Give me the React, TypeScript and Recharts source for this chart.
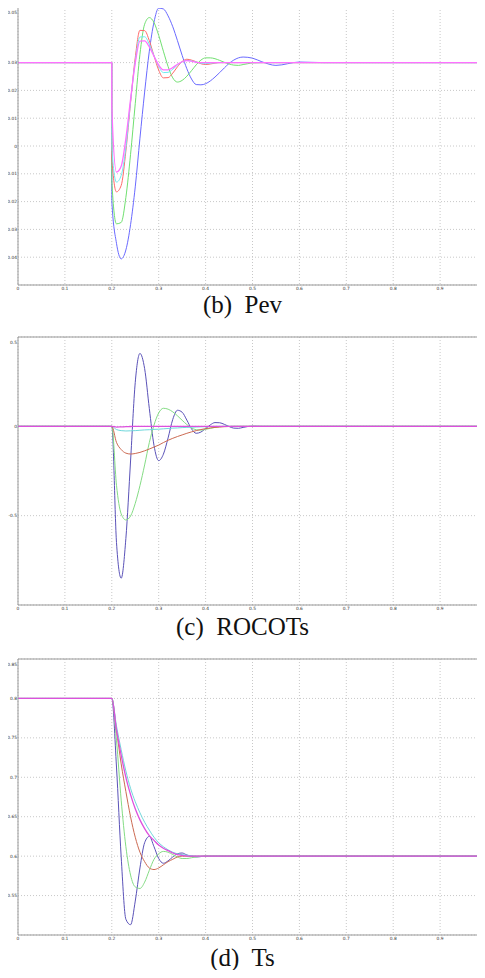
import { CartesianGrid, Line, LineChart, ReferenceLine, XAxis, YAxis } from "recharts";

// time base (s), shared by all three panels
const T = [
  0, 0.1999, 0.2, 0.21, 0.22, 0.23, 0.24, 0.25, 0.26, 0.27, 0.28, 0.29, 0.3, 0.31, 0.32, 0.33, 0.34, 0.35,
  0.36, 0.37, 0.38, 0.39, 0.4, 0.41, 0.42, 0.43, 0.44, 0.45, 0.46, 0.47, 0.48, 0.49, 0.5, 0.52, 0.55, 0.6,
  0.65, 0.7, 1.0,
];
const X_TICKS = [0, 0.1, 0.2, 0.3, 0.4, 0.5, 0.6, 0.7, 0.8, 0.9];

// (b) Pev
const PEV_TICKS = [-0.05, -0.04, -0.03, -0.02, -0.01, 0, 0.01, 0.02, 0.03, 0.04, 0.05];
const pevBlue = [
  0.03, 0.03, -0.0196, -0.035, -0.0406, -0.0374, -0.0283, -0.0147, 0.0028, 0.0194, 0.0341, 0.0446, 0.0496,
  0.0493, 0.0468, 0.0429, 0.0379, 0.0326, 0.0278, 0.0241, 0.0221, 0.022, 0.0224, 0.0234, 0.0248, 0.0264,
  0.0281, 0.0297, 0.0309, 0.0317, 0.032, 0.0319, 0.0316, 0.0303, 0.029, 0.0302, 0.03, 0.03, 0.03,
];
const pevGreen = [
  0.03, 0.03, -0.0124, -0.028, -0.0275, -0.0185, -0.003, 0.0152, 0.033, 0.0438, 0.0462, 0.0444, 0.0398,
  0.0341, 0.0286, 0.0245, 0.023, 0.0236, 0.0251, 0.0271, 0.0292, 0.0309, 0.0317, 0.0317, 0.0314, 0.0308,
  0.0301, 0.0295, 0.0291, 0.029, 0.0293, 0.0296, 0.0299, 0.03, 0.03, 0.03, 0.03, 0.03, 0.03,
];
const pevRed = [
  0.03, 0.03, -0.004, -0.0165, -0.0142, -0.0018, 0.0156, 0.0318, 0.0416, 0.0415, 0.0379, 0.0324, 0.0273,
  0.0245, 0.0246, 0.0262, 0.0285, 0.0304, 0.0312, 0.0309, 0.0303, 0.0296, 0.0293, 0.0295, 0.0298, 0.03,
  0.03, 0.03, 0.03, 0.03, 0.03, 0.03, 0.03, 0.03, 0.03, 0.03, 0.03, 0.03, 0.03,
];
const pevCyan = [
  0.03, 0.03, -0.0004, -0.013, -0.0106, -0.0005, 0.016, 0.0305, 0.0392, 0.0393, 0.0366, 0.0325, 0.0286,
  0.0264, 0.0265, 0.0276, 0.0291, 0.0303, 0.0308, 0.0306, 0.0302, 0.0298, 0.0296, 0.0298, 0.0299, 0.03,
  0.03, 0.03, 0.03, 0.03, 0.03, 0.03, 0.03, 0.03, 0.03, 0.03, 0.03, 0.03, 0.03,
];
const pevMagenta = [
  0.03, 0.03, 0.014, -0.0094, -0.0073, 0.0027, 0.0168, 0.0298, 0.0377, 0.0378, 0.0356, 0.0323, 0.0291,
  0.0274, 0.0274, 0.0282, 0.0294, 0.0303, 0.0307, 0.0305, 0.0301, 0.03, 0.03, 0.03, 0.03, 0.03, 0.03,
  0.03, 0.03, 0.03, 0.03, 0.03, 0.03, 0.03, 0.03, 0.03, 0.03, 0.03, 0.03,
];

// (c) ROCOTs
const ROC_TICKS = [-1, -0.5, 0, 0.5];
const rocBlue = [
  0, 0, 0, -0.65, -0.85, -0.628, -0.194, 0.246, 0.408, 0.323, 0.1, -0.107, -0.192, -0.156, -0.065, 0.039,
  0.09, 0.079, 0.035, -0.014, -0.039, -0.032, -0.013, 0.008, 0.021, 0.02, 0.011, -0.001, -0.01, -0.011,
  -0.006, -0.001, 0.001, 0, 0, 0, 0, 0, 0,
];
const rocGreen = [
  0, 0, 0, -0.33, -0.49, -0.524, -0.502, -0.431, -0.332, -0.216, -0.091, 0.007, 0.075, 0.101, 0.096,
  0.081, 0.059, 0.034, 0.01, -0.009, -0.019, -0.021, -0.017, -0.011, -0.006, -0.002, 0, 0, 0, 0, 0, 0, 0,
  0, 0, 0, 0, 0, 0,
];
const rocRed = [
  0, 0, 0, -0.09, -0.13, -0.15, -0.155, -0.152, -0.146, -0.137, -0.127, -0.116, -0.105, -0.091, -0.078,
  -0.067, -0.057, -0.048, -0.039, -0.031, -0.024, -0.018, -0.013, -0.009, -0.006, -0.004, -0.002, -0.001,
  0, 0, 0, 0, 0, 0, 0, 0, 0, 0, 0,
];
const rocCyan = [
  0, 0, 0, -0.018, -0.024, -0.026, -0.025, -0.024, -0.022, -0.02, -0.019, -0.017, -0.016, -0.014, -0.012,
  -0.01, -0.009, -0.007, -0.006, -0.005, -0.004, -0.003, -0.002, -0.001, 0, 0, 0, 0, 0, 0, 0, 0, 0, 0, 0,
  0, 0, 0, 0,
];
const rocMagenta = [
  0, 0, 0, -0.004, -0.003, -0.002, -0.001, 0, 0, 0, 0, 0, 0, 0, 0, 0, 0, 0, 0, 0, 0, 0, 0, 0, 0, 0, 0, 0,
  0, 0, 0, 0, 0, 0, 0, 0, 0, 0, 0,
];

// (d) Ts
const TS_TICKS = [0.5, 0.55, 0.6, 0.65, 0.7, 0.75, 0.8, 0.85];
const tsBlue = [
  0.8, 0.8, 0.8, 0.713, 0.599, 0.52, 0.513, 0.543, 0.585, 0.617, 0.625, 0.612, 0.597, 0.591, 0.594, 0.599,
  0.603, 0.604, 0.6015, 0.6, 0.599, 0.5995, 0.6, 0.6, 0.6, 0.6, 0.6, 0.6, 0.6, 0.6, 0.6, 0.6, 0.6, 0.6,
  0.6, 0.6, 0.6, 0.6, 0.6,
];
const tsGreen = [
  0.8, 0.8, 0.8, 0.747, 0.671, 0.612, 0.576, 0.561, 0.559, 0.567, 0.582, 0.596, 0.603, 0.606, 0.605,
  0.602, 0.599, 0.597, 0.597, 0.598, 0.599, 0.5995, 0.6, 0.6, 0.6, 0.6, 0.6, 0.6, 0.6, 0.6, 0.6, 0.6, 0.6,
  0.6, 0.6, 0.6, 0.6, 0.6, 0.6,
];
const tsRed = [
  0.8, 0.8, 0.8, 0.76, 0.717, 0.682, 0.65, 0.624, 0.605, 0.593, 0.585, 0.583, 0.585, 0.589, 0.593, 0.596,
  0.599, 0.6, 0.6, 0.6, 0.6, 0.6, 0.6, 0.6, 0.6, 0.6, 0.6, 0.6, 0.6, 0.6, 0.6, 0.6, 0.6, 0.6, 0.6, 0.6,
  0.6, 0.6, 0.6,
];
const tsCyan = [
  0.8, 0.8, 0.8, 0.765, 0.735, 0.708, 0.686, 0.669, 0.655, 0.643, 0.633, 0.624, 0.617, 0.612, 0.608,
  0.605, 0.603, 0.602, 0.601, 0.6005, 0.6, 0.6, 0.6, 0.6, 0.6, 0.6, 0.6, 0.6, 0.6, 0.6, 0.6, 0.6, 0.6,
  0.6, 0.6, 0.6, 0.6, 0.6, 0.6,
];
const tsMagenta = [
  0.8, 0.8, 0.8, 0.76, 0.728, 0.7, 0.678, 0.66, 0.646, 0.635, 0.626, 0.62, 0.614, 0.61, 0.607, 0.604,
  0.602, 0.601, 0.6, 0.6, 0.6, 0.6, 0.6, 0.6, 0.6, 0.6, 0.6, 0.6, 0.6, 0.6, 0.6, 0.6, 0.6, 0.6, 0.6, 0.6,
  0.6, 0.6, 0.6,
];

const SERIES = ["blue", "green", "red", "cyan", "magenta"];

function rows(cols: number[][]) {
  return T.map((t, i) => {
    const r: Record<string, number> = { t };
    SERIES.forEach((k, j) => (r[k] = cols[j][i]));
    return r;
  });
}

const AXIS = "#999";

// tiny MATLAB-style tick labels; drawn at 8px and scaled down so the browser's
// minimum font size doesn't blow them up
function YTick(props: any) {
  const { x, y, payload } = props;
  return (
    <g transform={`translate(${x - 1},${y})`}>
      <text transform="scale(0.55)" textAnchor="end" dy="0.35em" fontSize={8} fill="#333" fontFamily="DejaVu Sans">
        {String(payload.value)}
      </text>
    </g>
  );
}

function XTick(props: any) {
  const { x, y, payload } = props;
  return (
    <g transform={`translate(${x},${y + 1})`}>
      <text transform="scale(0.55)" textAnchor="middle" dy="0.9em" fontSize={8} fill="#333" fontFamily="DejaVu Sans">
        {String(payload.value)}
      </text>
    </g>
  );
}

function Panel({
  data,
  ticks,
  colors,
  top,
  plotH,
}: {
  data: Record<string, number>[];
  ticks: number[];
  colors: string[];
  top: number;
  plotH: number;
}) {
  const lo = ticks[0];
  const hi = ticks[ticks.length - 1];
  return (
    <div style={{ position: "absolute", left: 0, top: top - 4 }}>
      <LineChart width={487} height={plotH + 12} data={data} margin={{ top: 4, right: 0, bottom: 0, left: 0 }}>
        <CartesianGrid stroke="#c8c8c8" strokeDasharray="1 2" />
        <XAxis
          dataKey="t"
          type="number"
          domain={[0, 1]}
          ticks={X_TICKS}
          height={8}
          tick={<XTick />}
          tickLine={false}
          tickSize={0}
          axisLine={{ stroke: AXIS }}
          tickMargin={0}
        />
        <YAxis
          type="number"
          domain={[lo, hi]}
          ticks={ticks}
          width={18}
          tick={<YTick />}
          tickLine={false}
          tickSize={0}
          axisLine={{ stroke: AXIS }}
          tickMargin={0}
        />
        <ReferenceLine y={hi} stroke={AXIS} />
        {SERIES.map((k, j) => (
          <Line
            key={k}
            dataKey={k}
            type="monotone"
            stroke={colors[j]}
            strokeWidth={k === "magenta" ? 1.3 : 1}
            dot={false}
            isAnimationActive={false}
          />
        ))}
      </LineChart>
    </div>
  );
}

function Caption({ text, top }: { text: string; top: number }) {
  return (
    <div
      style={{
        position: "absolute",
        left: 0,
        top,
        width: 485,
        textAlign: "center",
        fontFamily: "Liberation Serif",
        fontSize: 25,
        lineHeight: "25px",
        whiteSpace: "pre",
        color: "#111",
      }}
    >
      {text}
    </div>
  );
}

const PEV_COLORS = ["#6a6aff", "#70e070", "#ff6a6a", "#70eaf0", "#ff70ff"];
const LOW_COLORS = ["#5a52b8", "#84dc84", "#cc6a52", "#70d8dc", "#dd50dd"];

export default function App() {
  return (
    <div style={{ position: "relative", width: 485, height: 978, margin: -8, overflow: "hidden", background: "#fff" }}>
      <Panel data={rows([pevBlue, pevGreen, pevRed, pevCyan, pevMagenta])} ticks={PEV_TICKS} colors={PEV_COLORS} top={7} plotH={278} />
      <Caption text="(b)  Pev" top={292} />
      <Panel data={rows([rocBlue, rocGreen, rocRed, rocCyan, rocMagenta])} ticks={ROC_TICKS} colors={LOW_COLORS} top={337} plotH={268} />
      <Caption text="(c)  ROCOTs" top={614} />
      <Panel data={rows([tsBlue, tsGreen, tsRed, tsCyan, tsMagenta])} ticks={TS_TICKS} colors={LOW_COLORS} top={659} plotH={276} />
      <Caption text="(d)  Ts" top={945} />
    </div>
  );
}
